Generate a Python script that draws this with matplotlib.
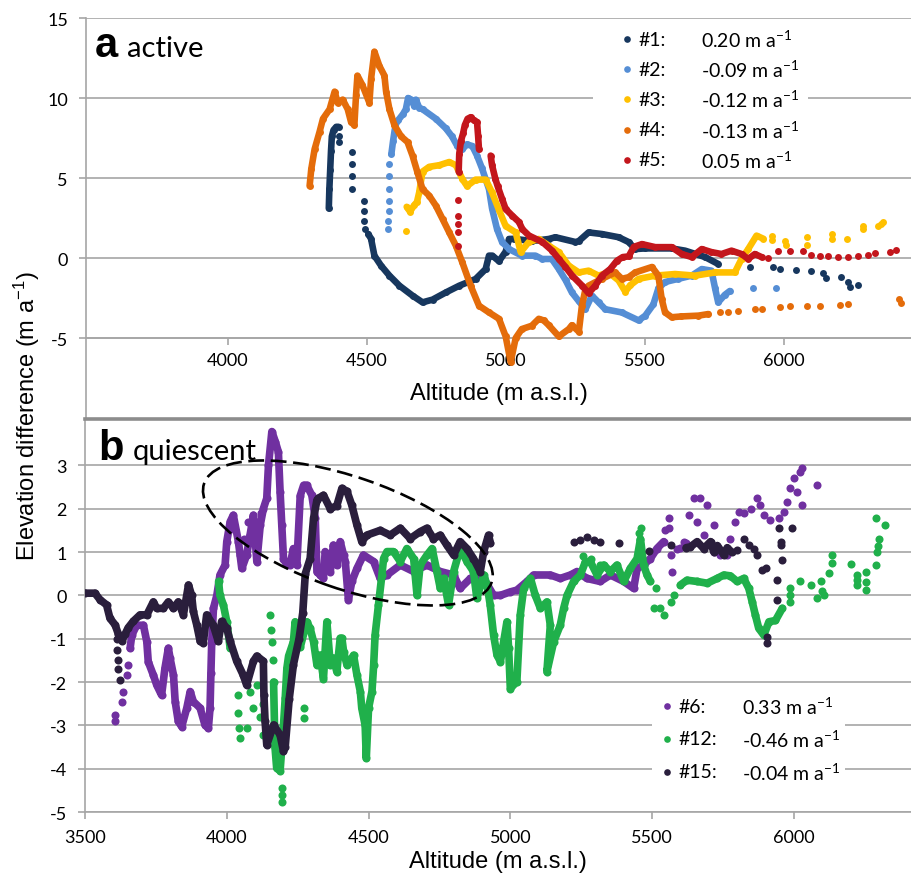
import matplotlib
matplotlib.use("Agg")
import matplotlib.pyplot as plt
from matplotlib import transforms
from matplotlib.patches import Ellipse, Rectangle

plt.rcParams["font.family"] = ["Lato", "DejaVu Sans"]
plt.rcParams["axes.unicode_minus"] = False
plt.rcParams["mathtext.fontset"] = "custom"
plt.rcParams["mathtext.rm"] = "Lato"
plt.rcParams["mathtext.default"] = "regular"

# ---------------- panel a (active) ----------------
s1_trace = [
    [(4363, 3.1), (4365, 4.3), (4368, 5.5), (4371, 6.7), (4374, 7.6), (4380, 8.0), (4390, 8.2), (4398, 8.2)],
    [(4505, 1.5), (4515, 1.2), (4527, 0.15), (4551, -0.48), (4581, -1.1), (4617, -1.73), (4664, -2.35),
     (4700, -2.77), (4736, -2.6), (4784, -2.15), (4832, -1.73), (4891, -1.31), (4927, -0.69), (4939, 0.15),
     (4951, 0.15), (4975, -0.2), (4999, 0.4), (5011, 1.19), (5030, 1.2), (5093, 1.06), (5154, 1.19),
     (5178, 1.3), (5250, 1.0), (5262, 1.06), (5297, 1.6), (5345, 1.5), (5405, 1.3), (5441, 1.0),
     (5465, 0.56), (5501, 0.6), (5596, 0.6), (5644, 0.46), (5716, 0.06), (5763, -0.37)],
]
s1_dots = [(4400, 7.6), (4400, 7.25), (4447, 6.6), (4447, 5.9), (4447, 5.1), (4447, 4.3), (4488, 3.56),
           (4488, 2.94), (4488, 2.3), (4493, 1.8), (5877, -0.56), (5961, -0.56), (5985, -0.7), (6044, -0.72),
           (6098, -0.8), (6141, -0.95), (6151, -1.25), (6205, -1.2), (6230, -1.5), (6236, -1.8), (6266, -1.7)]

s2_trace = [
    [(4588, 6.5), (4594, 7.3), (4600, 8.0), (4606, 8.5), (4612, 8.6), (4630, 9.0), (4640, 9.3), (4648, 10.0),
     (4660, 9.9), (4670, 9.5), (4676, 9.9), (4688, 9.4), (4700, 9.3), (4748, 8.7), (4784, 8.1), (4806, 7.6),
     (4825, 7.0), (4843, 6.8), (4860, 7.1), (4879, 7.0), (4896, 6.4), (4914, 5.6), (4939, 4.3), (4950, 3.1),
     (4968, 1.8), (4986, 1.0), (5011, 0.56), (5057, 0.15), (5106, 0.15), (5130, -0.06), (5165, -0.06),
     (5190, -0.69), (5215, -1.4), (5237, -2.15), (5262, -2.7), (5286, -3.2), (5309, -2.35), (5333, -2.77),
     (5357, -3.2), (5416, -3.4), (5477, -3.9), (5501, -3.6), (5530, -2.9), (5548, -1.9), (5572, -1.5),
     (5620, -1.3), (5668, -1.1), (5704, -0.69), (5739, -0.79), (5752, -1.9), (5763, -2.77), (5787, -2.3),
     (5805, -2.06)],
]
s2_dots = [(4578, 5.9), (4578, 5.14), (4578, 4.31), (4578, 3.58), (4578, 2.96), (4576, 2.33), (4576, 1.81),
           (5889, -1.9), (5972, -1.9)]

s3_trace = [
    [(4643, 3.2), (4655, 2.9), (4670, 3.3), (4680, 3.5), (4688, 4.1), (4700, 5.4), (4724, 5.7), (4760, 5.8),
     (4796, 6.0), (4820, 5.8), (4843, 4.94), (4860, 4.5), (4891, 4.9), (4927, 4.9), (4950, 4.1), (4975, 3.0),
     (4999, 2.0), (5035, 1.6), (5053, 0.37), (5082, 1.0), (5118, 1.19), (5154, 0.77), (5190, 0.37),
     (5226, -0.48), (5262, -0.9), (5297, -0.79), (5333, -1.1), (5369, -0.9), (5405, -1.4), (5429, -2.1),
     (5447, -1.7), (5477, -1.3), (5537, -1.1), (5608, -1.0), (5680, -1.1), (5752, -0.9), (5823, -0.9),
     (5847, -0.06), (5871, 0.56), (5901, 1.4), (5926, 1.2)],
]
s3_dots = [(4642, 1.7), (5955, 1.4), (5955, 1.1), (6002, 1.08), (6008, 0.8), (6081, 1.3), (6081, 0.8),
           (6171, 1.5), (6171, 1.2), (6225, 1.2), (6284, 2.0), (6284, 1.8), (6338, 2.0), (6350, 2.1), (6356, 2.25)]

s4_trace = [
    [(4294, 4.5), (4300, 5.56), (4312, 6.8), (4330, 7.9), (4342, 8.7), (4366, 9.3), (4384, 10.4), (4395, 9.7),
     (4413, 9.9), (4431, 9.3), (4443, 8.5), (4455, 8.3), (4461, 10.2), (4466, 11.4), (4484, 10.8), (4509, 9.7),
     (4515, 11.2), (4527, 12.9), (4545, 12.0), (4563, 11.4), (4569, 10.4), (4581, 9.3), (4599, 8.3),
     (4623, 7.6), (4646, 7.25), (4664, 6.4), (4681, 5.4), (4700, 4.3), (4724, 3.9), (4748, 3.27),
     (4772, 2.44), (4796, 1.6), (4820, 0.77), (4843, -0.27), (4873, -1.73), (4903, -2.98), (4939, -3.4),
     (4975, -3.8), (4999, -4.9), (5017, -6.5), (5035, -5.0), (5057, -4.44), (5093, -4.23), (5118, -3.8),
     (5136, -3.9), (5154, -4.2), (5190, -4.9), (5226, -4.44), (5237, -4.2), (5262, -4.6), (5273, -3.0),
     (5286, -1.94), (5297, -1.73), (5345, -1.3), (5393, -0.9), (5417, -1.3), (5441, -1.2), (5465, -0.9),
     (5525, -0.56), (5548, -1.1), (5560, -2.56), (5572, -3.4), (5596, -3.7), (5631, -3.65), (5692, -3.6),
     (5728, -3.5)],
]
s4_dots = [(5769, -3.4), (5799, -3.35), (5835, -3.3), (5895, -3.2), (5919, -3.2), (5985, -3.06), (6021, -3.0),
           (6081, -3.0), (6129, -3.0), (6200, -2.96), (6230, -2.9), (6415, -2.56), (6420, -2.8)]

s5_trace = [
    [(4830, 5.4), (4832, 6.5), (4838, 7.3), (4846, 7.8), (4852, 8.3), (4862, 8.7), (4873, 8.8), (4885, 8.6),
     (4896, 8.5), (4900, 7.6), (4903, 6.8)],
    [(4945, 6.4), (4950, 5.8), (4962, 4.94), (4970, 4.5), (4986, 3.7), (4999, 3.06), (5023, 2.64),
     (5047, 2.25), (5059, 1.8), (5083, 1.4), (5131, 1.0), (5166, 0.46), (5190, -0.06), (5214, -0.56),
     (5238, -1.1), (5274, -1.73), (5297, -2.2), (5321, -1.73), (5345, -1.1), (5375, -0.69), (5399, -0.17),
     (5420, 0.06), (5441, 0.1), (5460, 0.7), (5489, 0.87), (5537, 0.68), (5596, 0.68), (5632, 0.25),
     (5668, 0.06), (5704, 0.56), (5739, 0.37), (5775, 0.25), (5811, 0.46), (5847, 0.25), (5871, -0.06),
     (5895, 0.25), (5919, 0.06)],
]
s5_dots = [(4829, 3.6), (4829, 2.64), (4829, 2.1), (4829, 1.6), (4829, 0.77), (5943, 0.0), (5978, 0.46),
           (6021, 0.46), (6069, 0.46), (6098, 0.19), (6129, 0.15), (6159, 0.1), (6195, 0.06), (6230, 0.06),
           (6266, 0.15), (6302, 0.19), (6326, 0.31), (6380, 0.4), (6404, 0.52)]

names_a = ["#1:", "#2:", "#3:", "#4:", "#5:"]
rates_a = ["0.20", "-0.09", "-0.12", "-0.13", "0.05"]
colors_a = ["#17375E", "#558ED5", "#FFC000", "#E46C0A", "#C3161C"]

# ---------------- panel b (quiescent) ----------------
s6_trace = [
    [(3659, -1.22), (3665, -0.92), (3682, -0.69), (3706, -0.69), (3718, -1.07), (3723, -1.53), (3741, -1.84),
     (3753, -2.07), (3770, -2.3), (3782, -1.68), (3794, -1.22), (3800, -1.45), (3812, -1.84), (3818, -2.45),
     (3829, -2.91), (3841, -3.03), (3859, -2.6), (3871, -2.22), (3882, -2.45), (3906, -2.6), (3923, -2.99),
     (3935, -3.07), (3941, -2.6), (3944, -1.8), (3947, -1.07), (3953, -0.3), (3965, 0.0), (3976, 0.47),
     (3994, 0.7), (4000, 1.24), (4012, 1.7), (4023, 1.85), (4041, 1.24), (4047, 0.93), (4053, 0.62),
     (4070, 0.93), (4082, 1.39), (4094, 1.85), (4106, 0.78), (4118, 1.62), (4129, 2.0), (4141, 2.24),
     (4147, 3.0), (4159, 3.78), (4171, 3.55), (4182, 3.31), (4188, 2.39), (4194, 1.62), (4200, 0.85),
     (4212, 0.7), (4223, 0.7), (4235, 1.08), (4247, 0.7), (4259, 2.3), (4271, 2.54), (4282, 2.54),
     (4300, 2.31), (4312, 1.78), (4318, 0.55), (4329, 0.47), (4341, 0.39), (4347, 1.01), (4353, 0.93),
     (4365, 0.55), (4376, 1.16), (4388, 0.7), (4400, 1.24), (4412, 0.93), (4418, 0.78), (4429, -0.1),
     (4441, 0.32), (4459, 0.62), (4482, 0.93), (4518, 0.78), (4541, 0.39), (4565, 0.47), (4612, 0.7),
     (4659, 0.55), (4706, 0.7), (4753, 0.55), (4800, 0.47), (4823, 0.16), (4859, 0.39), (4906, 0.39),
     (4941, 0.0), (4965, 0.0), (5000, 0.08), (5023, 0.12), (5059, 0.32), (5082, 0.47), (5141, 0.47),
     (5176, 0.39), (5212, 0.47), (5235, 0.55), (5270, 0.39), (5317, 0.32), (5353, 0.47), (5400, 0.32),
     (5435, 0.16), (5447, 0.62), (5470, 0.7), (5494, 0.85), (5517, 1.08), (5541, 1.24)],
]
s6_dots = [(3606, -2.91), (3606, -2.75), (3629, -2.45), (3635, -2.22), (3647, -1.84), (3650, -1.6),
           (4030, 1.5), (4060, 1.3), (4075, 1.7), (4100, 1.5), (4120, 1.9),
           (5545, 1.5), (5558, 1.78), (5558, 1.55), (5565, 0.93), (5570, 0.55), (5588, 1.08), (5600, 1.1),
           (5612, 1.24), (5620, 1.2), (5629, 1.85), (5647, 2.24), (5670, 2.24), (5694, 2.08), (5659, 1.7),
           (5682, 1.39), (5717, 1.62), (5717, 1.01), (5741, 0.93), (5765, 0.93), (5776, 1.31), (5794, 1.7),
           (5806, 1.93), (5823, 1.89), (5847, 2.0), (5870, 2.24), (5882, 2.08), (5894, 1.85), (5917, 1.74),
           (5947, 1.78), (5965, 1.93), (5976, 2.16), (5988, 2.47), (6000, 2.7), (6012, 2.39), (6023, 2.85),
           (6029, 2.93), (6029, 2.08), (6082, 2.54)]

s12_trace = [
    [(3971, 0.32), (3976, 0.0), (3988, -0.22), (4000, -0.61), (4012, -1.22)],
    [(4165, -2.0), (4170, -3.5), (4176, -3.99), (4188, -4.05), (4200, -3.0), (4206, -2.38), (4212, -1.68),
     (4218, -1.4), (4235, -1.07), (4241, -0.61), (4259, -1.2), (4282, -0.61), (4294, -0.76), (4306, -1.07),
     (4318, -1.61), (4329, -1.38), (4341, -1.92), (4353, -0.61), (4365, -1.61), (4376, -1.45), (4388, -1.76),
     (4400, -0.99), (4406, -0.99), (4412, -1.3), (4424, -1.61), (4441, -1.45), (4447, -1.38), (4459, -1.84),
     (4471, -2.22), (4476, -2.6), (4488, -3.0), (4492, -3.76), (4500, -2.6), (4512, -2.22), (4518, -1.61),
     (4523, -0.92), (4535, -0.22), (4547, 0.47), (4553, 0.85), (4565, 1.01), (4588, 1.01), (4612, 0.78),
     (4635, 1.08), (4659, 0.85), (4671, 0.0), (4682, 0.7), (4706, 0.93), (4724, 1.08), (4741, 0.55),
     (4753, 0.16), (4765, 0.39), (4782, -0.22), (4800, 0.55), (4823, 1.08), (4847, 0.78), (4870, 0.55),
     (4882, -0.07), (4906, 0.47), (4918, 0.24), (4929, -0.22), (4941, -0.92), (4953, -1.38), (4965, -1.53),
     (4988, -0.61), (4994, -1.22), (5000, -2.15), (5023, -1.99), (5035, -0.45), (5047, 0.16), (5071, 0.39),
     (5088, 0.0), (5106, -0.3), (5129, -0.15), (5141, -0.69), (5135, -1.22), (5129, -1.76), (5153, -1.07),
     (5176, -0.69), (5188, -0.3), (5200, 0.0), (5223, 0.32), (5247, 0.47), (5265, 0.78), (5282, 0.78),
     (5306, 0.47), (5329, 0.7), (5353, 0.55), (5376, 0.7), (5400, 0.32), (5423, 0.62), (5447, 0.85),
     (5459, 1.3), (5470, 0.7), (5482, 0.47), (5494, 0.32)],
    [(5600, 0.24), (5623, 0.35), (5659, 0.32), (5694, 0.28), (5729, 0.39), (5753, 0.47), (5776, 0.45),
     (5800, 0.32), (5823, 0.39), (5841, 0.16), (5853, -0.15), (5864, -0.45), (5876, -0.76), (5894, -0.92),
     (5912, -0.61), (5935, -0.58), (5959, -0.3)],
]
s12_dots = [(4041, -2.3), (4041, -2.72), (4044, -3.07), (4047, -3.3), (4070, -3.07), (4082, -2.22),
            (4094, -2.6), (4106, -2.07), (4118, -2.8), (4129, -3.22), (4129, -2.5), (4153, -0.45), (4156, -0.8),
            (4159, -1.07), (4162, -1.5), (4194, -4.45), (4194, -4.6), (4194, -4.76), (4271, -2.6),
            (4271, -2.84), (5258, 0.9), (5285, 0.85), (5317, 0.7), (5455, 1.45), (5462, 1.55),
            (5512, 0.16), (5506, -0.3), (5529, -0.3), (5541, -0.45), (5565, -0.15), (5576, 0.0),
            (5988, 0.16), (5988, -0.15), (5988, 0.0), (6023, 0.32), (6059, 0.24), (6082, -0.07), (6094, 0.32),
            (6106, 0.0), (6100, 0.1), (6123, 0.51), (6135, 0.93), (6135, 0.75), (6200, 0.72), (6223, 0.47),
            (6223, 0.24), (6223, 0.35), (6253, 0.55), (6253, 0.12), (6253, 0.3), (6288, 0.7), (6294, 1.01),
            (6300, 1.31), (6297, 1.15), (6288, 1.78), (6323, 1.62)]

s15_trace = [
    [(3500, 0.05), (3535, 0.05), (3553, -0.1), (3576, -0.22), (3588, -0.53), (3606, -0.68), (3618, -0.9),
     (3630, -1.05), (3641, -0.9), (3652, -0.75), (3670, -0.6), (3694, -0.45), (3718, -0.45), (3741, -0.15),
     (3753, -0.3), (3776, -0.3), (3794, -0.15), (3812, -0.3), (3829, -0.15), (3847, -0.45), (3865, 0.24),
     (3876, 0.0), (3882, -0.37), (3894, -0.68), (3906, -1.06), (3917, -1.1), (3929, -0.45), (3952, -0.68),
     (3970, -1.06), (3982, -0.6), (4000, -0.76), (4012, -1.06), (4035, -1.52), (4058, -1.84), (4070, -2.07),
     (4094, -1.52), (4106, -1.4), (4129, -1.52), (4131, -2.3), (4135, -2.9), (4141, -3.45), (4165, -2.99),
     (4188, -3.22), (4200, -3.6), (4206, -3.5), (4220, -2.4), (4235, -1.6), (4255, -1.0), (4268, -0.4),
     (4277, 0.5), (4294, 0.85), (4306, 1.78), (4318, 2.2), (4323, 2.24), (4341, 2.31), (4365, 2.0),
     (4388, 2.07), (4406, 2.47), (4424, 2.4), (4441, 2.08), (4459, 1.62), (4476, 1.24), (4494, 1.39),
     (4541, 1.5), (4576, 1.39), (4612, 1.55), (4647, 1.31), (4682, 1.47), (4706, 1.55), (4729, 1.31),
     (4753, 1.39), (4776, 1.16), (4800, 0.93), (4823, 1.24), (4847, 1.08), (4870, 0.85), (4894, 0.55),
     (4906, 1.01), (4923, 1.39), (4930, 1.2)],
    [(5620, 1.1), (5635, 1.12), (5659, 1.24), (5682, 1.08), (5706, 1.24), (5717, 1.01), (5730, 1.15),
     (5753, 0.93), (5765, 1.1), (5780, 1.0)],
]
s15_dots = [(3612, -1.0), (3612, -1.25), (3615, -1.5), (3618, -1.7), (3622, -1.95), (5223, 1.24), (5247, 1.28),
            (5270, 1.35), (5294, 1.28), (5315, 1.24), (5382, 1.2), (5488, 1.02), (5565, 1.16), (5800, 1.05),
            (5823, 1.31), (5841, 1.16), (5859, 1.08), (5870, 0.93), (5888, 0.58), (5900, 0.62), (5947, 1.55),
            (5953, 1.24), (5955, 1.16), (5959, 0.81), (5941, 0.35), (5941, -0.1), (5906, -0.95), (5906, -1.1),
            (5994, 1.55)]

names_b = ["#6:", "#12:", "#15:"]
rates_b = ["0.33", "-0.46", "-0.04"]
colors_b = ["#7030A0", "#20B04B", "#2A1E3C"]

GRID = "#a6a6a6"


def draw_series(ax, traces, dots, color, ms, z):
    for tr in traces:
        xs, ys = zip(*tr)
        ax.plot(xs, ys, "-o", color=color, lw=ms * 0.95, ms=ms, mew=0,
                solid_joinstyle="round", solid_capstyle="round", zorder=z)
    xs, ys = zip(*dots)
    ax.plot(xs, ys, "o", color=color, ms=ms, mew=0, zorder=z)


def style_axes(ax):
    ax.spines["right"].set_visible(False)
    for s in ["left", "bottom"]:
        ax.spines[s].set_color(GRID)
        ax.spines[s].set_linewidth(1.2)
    ax.yaxis.grid(True, color=GRID, lw=1.2)
    ax.set_axisbelow(True)
    ax.tick_params(colors=GRID, labelcolor="black", length=5, width=1.2, labelsize=13)
    ax.tick_params(axis="y", pad=8)


def draw_legend(ax, box, ys, xm, xn, xv, names, rates, colors):
    ax.add_patch(Rectangle((box[0], box[1]), box[2], box[3], transform=ax.transAxes,
                           facecolor="white", edgecolor="none", zorder=8))
    for y, n, r, c in zip(ys, names, rates, colors):
        ax.plot([xm], [y], "o", color=c, ms=4.8, mew=0, transform=ax.transAxes, zorder=9, clip_on=False)
        ax.text(xn, y, n, transform=ax.transAxes, fontsize=14, va="center", ha="left", zorder=9)
        ax.text(xv, y, r + " m a$^{-1}$", transform=ax.transAxes, fontsize=14, va="center", ha="left", zorder=9)


fig = plt.figure(figsize=(9.11, 8.79), dpi=100)

# top panel
ax_a = fig.add_axes([86 / 911, 1 - 420 / 879, 826 / 911, 401 / 879])
ax_a.set_xlim(3490, 6460)
ax_a.set_ylim(-10.06, 15)
ax_a.spines["top"].set_visible(False)
ax_a.spines["bottom"].set_position(("data", -5))
style_axes(ax_a)
ax_a.set_yticks([-5, 0, 5, 10, 15])
ax_a.set_xticks([4000, 4500, 5000, 5500, 6000])
ax_a.tick_params(axis="x", pad=5)
ax_a.set_xlabel("Altitude (m a.s.l.)", family="Liberation Sans", fontsize=17, labelpad=10)

for i, (tr, dt) in enumerate([(s1_trace, s1_dots), (s2_trace, s2_dots), (s3_trace, s3_dots),
                              (s4_trace, s4_dots), (s5_trace, s5_dots)]):
    draw_series(ax_a, tr, dt, colors_a[i], 5.0, 3 + i)

ax_a.text(0.011, 0.905, "a", transform=ax_a.transAxes, family="Liberation Sans", weight="bold", fontsize=30)
ax_a.text(0.050, 0.905, "active", transform=ax_a.transAxes, fontsize=21)
draw_legend(ax_a, (0.614, 0.61, 0.26, 0.383), [0.9476, 0.8728, 0.798, 0.7207, 0.6459],
            0.6552, 0.6685, 0.7448, names_a, rates_a, colors_a)

# bottom panel
ax_b = fig.add_axes([85 / 911, 1 - 813 / 879, 826 / 911, 393 / 879])
ax_b.set_xlim(3500, 6413)
ax_b.set_ylim(-5, 4.07)
style_axes(ax_b)
ax_b.spines["top"].set_color("#8c8c8c")
ax_b.spines["top"].set_linewidth(2.6)
ax_b.set_yticks(range(-5, 4))
ax_b.set_xticks([3500, 4000, 4500, 5000, 5500, 6000])
ax_b.tick_params(axis="x", pad=7)
ax_b.set_xlabel("Altitude (m a.s.l.)", family="Liberation Sans", fontsize=17, labelpad=4)

for i, (tr, dt) in enumerate([(s6_trace, s6_dots), (s12_trace, s12_dots), (s15_trace, s15_dots)]):
    draw_series(ax_b, tr, dt, colors_b[i], 5.8, 3 + i)

ax_b.text(0.0157, 0.898, "b", transform=ax_b.transAxes, family="Liberation Sans", weight="bold", fontsize=30)
ax_b.text(0.058, 0.898, "quiescent", transform=ax_b.transAxes, fontsize=21)
draw_legend(ax_b, (0.686, 0.053, 0.234, 0.26), [0.2697, 0.1858, 0.1018],
            0.7046, 0.7179, 0.7954, names_b, rates_b, colors_b)

ell = Ellipse((0, 0), 3.04, 1.12, angle=-19,
              transform=fig.dpi_scale_trans + transforms.ScaledTranslation(4427, 1.44, ax_b.transData),
              fill=False, edgecolor="black", lw=1.9, ls=(0, (6, 2.5)), zorder=7)
ax_b.add_patch(ell)

fig.text(27 / 911, 1 - 416 / 879, "Elevation difference (m a$^{-1}$)", rotation=90,
         family="Liberation Sans", fontsize=17, ha="center", va="center")

fig.savefig("out.png", dpi=100)
